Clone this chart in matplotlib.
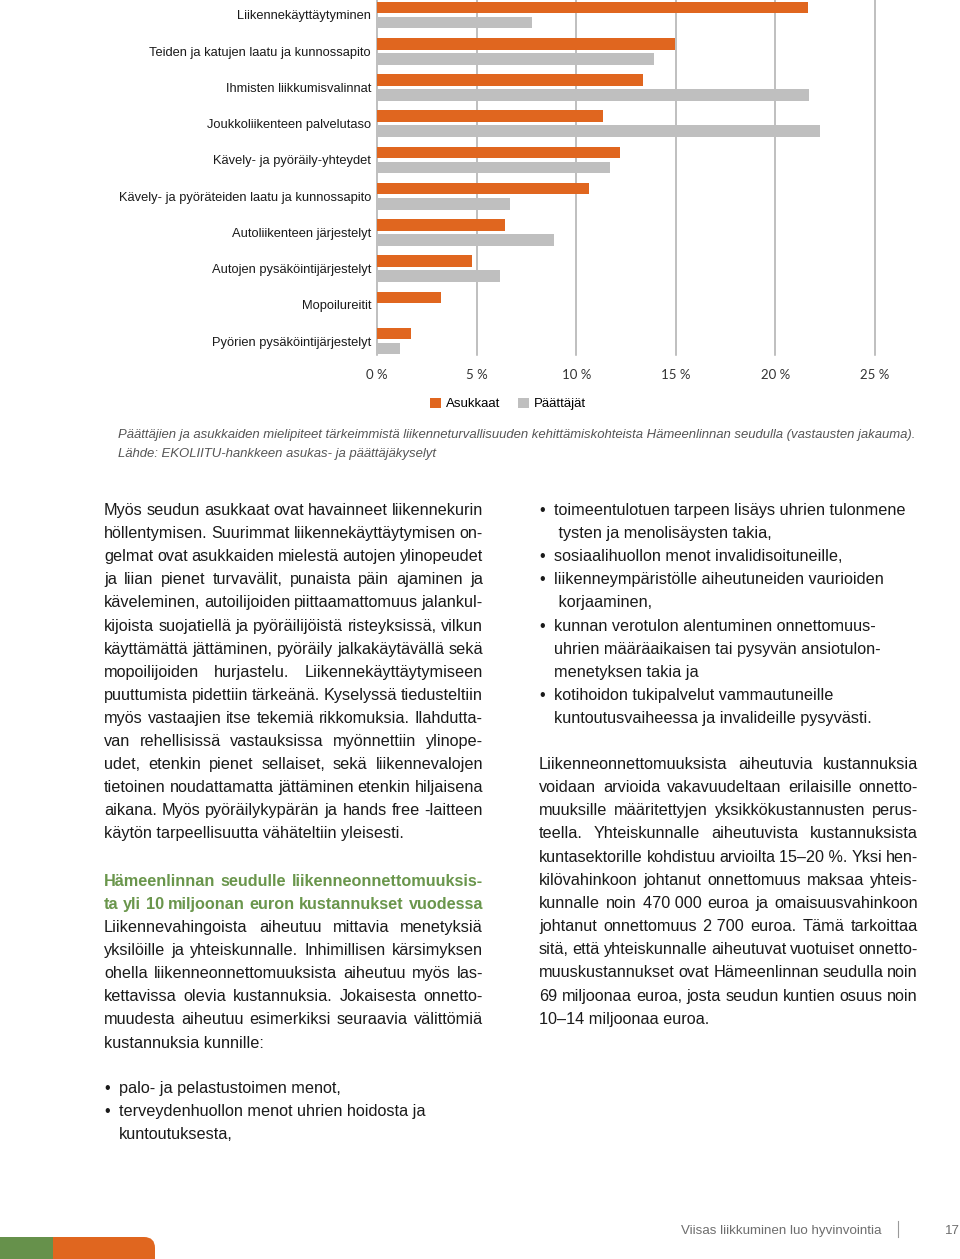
import matplotlib
matplotlib.use('Agg')
import matplotlib.pyplot as plt
from matplotlib.font_manager import FontProperties
from matplotlib.patches import Rectangle, FancyBboxPatch

# chart data
categories = ['Liikennekäyttäytyminen', 'Teiden ja katujen laatu ja kunnossapito',
              'Ihmisten liikkumisvalinnat', 'Joukkoliikenteen palvelutaso',
              'Kävely- ja pyöräily-yhteydet', 'Kävely- ja pyöräteiden laatu ja kunnossapito',
              'Autoliikenteen järjestelyt', 'Autojen pysäköintijärjestelyt',
              'Mopoilureitit', 'Pyörien pysäköintijärjestelyt']
asukkaat = [21.65, 14.95, 13.35, 11.35, 12.2, 10.65, 6.45, 4.75, 3.2, 1.7]
paattajat = [7.8, 13.9, 21.7, 22.25, 11.7, 6.7, 8.9, 6.15, 0.0, 1.15]
series_names = ['Asukkaat', 'Päättäjät']
x_ticks = [0, 5, 10, 15, 20, 25]
x_tick_labels = ['0 %', '5 %', '10 %', '15 %', '20 %', '25 %']

caption = ['Päättäjien ja asukkaiden mielipiteet tärkeimmistä liikenneturvallisuuden '
           'kehittämiskohteista Hämeenlinnan seudulla (vastausten jakauma).',
           'Lähde: EKOLIITU-hankkeen asukas- ja päättäjäkyselyt']

left_par1 = ['Myös seudun asukkaat ovat havainneet liikennekurin',
             'höllentymisen. Suurimmat liikennekäyttäytymisen on-',
             'gelmat ovat asukkaiden mielestä autojen ylinopeudet',
             'ja liian pienet turvavälit, punaista päin ajaminen ja',
             'käveleminen, autoilijoiden piittaamattomuus jalankul-',
             'kijoista suojatiellä ja pyöräilijöistä risteyksissä, vilkun',
             'käyttämättä jättäminen, pyöräily jalkakäytävällä sekä',
             'mopoilijoiden hurjastelu. Liikennekäyttäytymiseen',
             'puuttumista pidettiin tärkeänä. Kyselyssä tiedusteltiin',
             'myös vastaajien itse tekemiä rikkomuksia. Ilahdutta-',
             'van rehellisissä vastauksissa myönnettiin ylinope-',
             'udet, etenkin pienet sellaiset, sekä liikennevalojen',
             'tietoinen noudattamatta jättäminen etenkin hiljaisena',
             'aikana. Myös pyöräilykypärän ja hands free -laitteen',
             'käytön tarpeellisuutta vähäteltiin yleisesti.']
heading = ['Hämeenlinnan seudulle liikenneonnettomuuksis-',
           'ta yli 10 miljoonan euron kustannukset vuodessa']
left_par2 = ['Liikennevahingoista aiheutuu mittavia menetyksiä',
             'yksilöille ja yhteiskunnalle. Inhimillisen kärsimyksen',
             'ohella liikenneonnettomuuksista aiheutuu myös las-',
             'kettavissa olevia kustannuksia. Jokaisesta onnetto-',
             'muudesta aiheutuu esimerkiksi seuraavia välittömiä',
             'kustannuksia kunnille:']
left_bullets = [['palo- ja pelastustoimen menot,'],
                ['terveydenhuollon menot uhrien hoidosta ja', 'kuntoutuksesta,']]
right_bullets = [['toimeentulotuen tarpeen lisäys uhrien tulonmene', ' tysten ja menolisäysten takia,'],
                 ['sosiaalihuollon menot invalidisoituneille,'],
                 ['liikenneympäristölle aiheutuneiden vaurioiden', ' korjaaminen,'],
                 ['kunnan verotulon alentuminen onnettomuus-',
                  'uhrien määräaikaisen tai pysyvän ansiotulon-', 'menetyksen takia ja'],
                 ['kotihoidon tukipalvelut vammautuneille',
                  'kuntoutusvaiheessa ja invalideille pysyvästi.']]
right_par = ['Liikenneonnettomuuksista aiheutuvia kustannuksia',
             'voidaan arvioida vakavuudeltaan erilaisille onnetto-',
             'muuksille määritettyjen yksikkökustannusten perus-',
             'teella. Yhteiskunnalle aiheutuvista kustannuksista',
             'kuntasektorille kohdistuu arvioilta 15–20\u00a0%. Yksi hen-',
             'kilövahinkoon johtanut onnettomuus maksaa yhteis-',
             'kunnalle noin 470\u00a0000 euroa ja omaisuusvahinkoon',
             'johtanut onnettomuus 2\u00a0700 euroa. Tämä tarkoittaa',
             'sitä, että yhteiskunnalle aiheutuvat vuotuiset onnetto-',
             'muuskustannukset ovat Hämeenlinnan seudulla noin',
             '69 miljoonaa euroa, josta seudun kuntien osuus noin',
             '10–14 miljoonaa euroa.']
footer_title = 'Viisas liikkuminen luo hyvinvointia'
page_number = '17'

ORANGE = '#E0661F'
GREY = '#BFBFBF'
GREEN = '#6A964C'
TEXT = '#1A1A1A'
W, H = 960, 1259

fig = plt.figure(figsize=(W / 100, H / 100), dpi=100)
renderer = fig.canvas.get_renderer()

SANS = ['Liberation Sans', 'DejaVu Sans']
NARROW = ['Liberation Sans Narrow', 'Liberation Sans', 'DejaVu Sans']
MIN_GAP = 3.6


def width(s, prop):
    return renderer.get_text_width_height_descent(s, prop, ismath=False)[0]


def fitted(s, target, family, **kw):
    p = FontProperties(family=family, size=10, **kw)
    return FontProperties(family=family, size=10 * target / width(s, p), **kw)


# page layer in pixel coordinates
page = fig.add_axes([0, 0, 1, 1])
page.set_xlim(0, W)
page.set_ylim(H, 0)
page.axis('off')


def put(x, y, s, prop, color=TEXT, ha='left'):
    page.text(x, y, s, fontproperties=prop, color=color, ha=ha, va='baseline')


def justified(x0, x1, y, s, prop, color=TEXT):
    words = s.split(' ')
    if len(words) < 2:
        put(x0, y, s, prop, color)
        return
    ws = [width(w, prop) for w in words]
    room = x1 - x0 - MIN_GAP * (len(words) - 1)
    if sum(ws) > room:
        # squeeze a crowded line a little, as the typesetter did
        prop = prop.copy()
        prop.set_size(prop.get_size() * room / sum(ws))
        ws = [width(w, prop) for w in words]
    gap = (x1 - x0 - sum(ws)) / (len(words) - 1)
    x = x0
    for w, wd in zip(words, ws):
        put(x, y, w, prop, color)
        x += wd + gap


def paragraph(lines, x0, x1, y0, prop, step=23.1, color=TEXT, justify_last=False):
    for k, s in enumerate(lines):
        y = y0 + k * step
        if k == len(lines) - 1 and not justify_last:
            put(x0, y, s, prop, color)
        else:
            justified(x0, x1, y, s, prop, color)


def bullets(items, xb, xt, y0, prop, step=23.1):
    k = 0
    for item in items:
        put(xb, y0 + k * step, '•', prop)
        for s in item:
            put(xt, y0 + k * step, s, prop)
            k += 1


body = fitted('toimeentulotuen tarpeen lisäys uhrien tulonmene', 352, SANS)
bold = FontProperties(family=SANS, size=body.get_size(), weight='bold')

paragraph(left_par1, 104, 483, 515, body)
paragraph(heading, 104, 483, 886, bold, color=GREEN, justify_last=True)
paragraph(left_par2, 104, 483, 932, body)
bullets(left_bullets, 104, 119, 1093, body)
bullets(right_bullets, 539, 554, 515, body)
paragraph(right_par, 539, 918, 769, body, step=23.15)

cap = fitted(caption[0], 806, NARROW, style='italic')
put(118, 438, caption[0], cap, color='#555555')
put(118, 457, caption[1], cap, color='#555555')

foot = fitted(footer_title, 202, NARROW)
put(681, 1234, footer_title, foot, color='#6E6E6E')
put(960, 1234, page_number, foot, color='#6E6E6E', ha='right')
page.plot([898, 898], [1221, 1237], color='#9A9A9A', lw=0.8)

page.add_patch(FancyBboxPatch((53, 1237), 102, 40, boxstyle='round,pad=0,rounding_size=11',
                              facecolor=ORANGE, edgecolor='none'))
page.add_patch(Rectangle((53, 1237), 40, 40, facecolor=ORANGE, edgecolor='none'))
page.add_patch(Rectangle((0, 1237), 53, 40, facecolor='#66914B', edgecolor='none'))

# bar chart
x0, x1, ybot = 377, 875, 355
ax = fig.add_axes([x0 / W, 1 - ybot / H, (x1 - x0) / W, ybot / H])
ax.patch.set_alpha(0)
step = 36.24
pos = list(range(len(categories)))
ax.set_ylim((ybot - 15) / step, -15 / step)
ax.set_xlim(0, 25)
b1 = ax.barh([p - 0.207 for p in pos], asukkaat, height=0.32, color=ORANGE, label=series_names[0])
b2 = ax.barh([p + 0.207 for p in pos], paattajat, height=0.32, color=GREY, label=series_names[1])
ax.set_axisbelow(True)
ax.set_xticks(x_ticks)
ax.set_xticklabels(x_tick_labels, fontproperties=FontProperties(family=['Lato', 'DejaVu Sans'], size=9.5),
                   color='#333333')
lab = fitted('Teiden ja katujen laatu ja kunnossapito', 222, SANS)
ax.set_yticks(pos)
ax.set_yticklabels(categories, fontproperties=lab, color=TEXT)
ax.tick_params(axis='y', length=0, pad=4.3)
ax.tick_params(axis='x', length=0, pad=10)
for s in ax.spines.values():
    s.set_visible(False)
ax.xaxis.grid(True, color='#ADADAD', lw=1.1)
for g in ax.get_xgridlines():
    g.set_clip_on(False)

ax.legend(handles=[b1, b2], loc='center', bbox_to_anchor=(508 / W, 1 - 404 / H),
          bbox_transform=fig.transFigure, ncol=2, frameon=False,
          prop=FontProperties(family=SANS, size=lab.get_size() * 1.03),
          handlelength=0.85, handleheight=0.85, handletextpad=0.4, columnspacing=1.3,
          borderpad=0, borderaxespad=0)

fig.savefig('out.png', dpi=100)
